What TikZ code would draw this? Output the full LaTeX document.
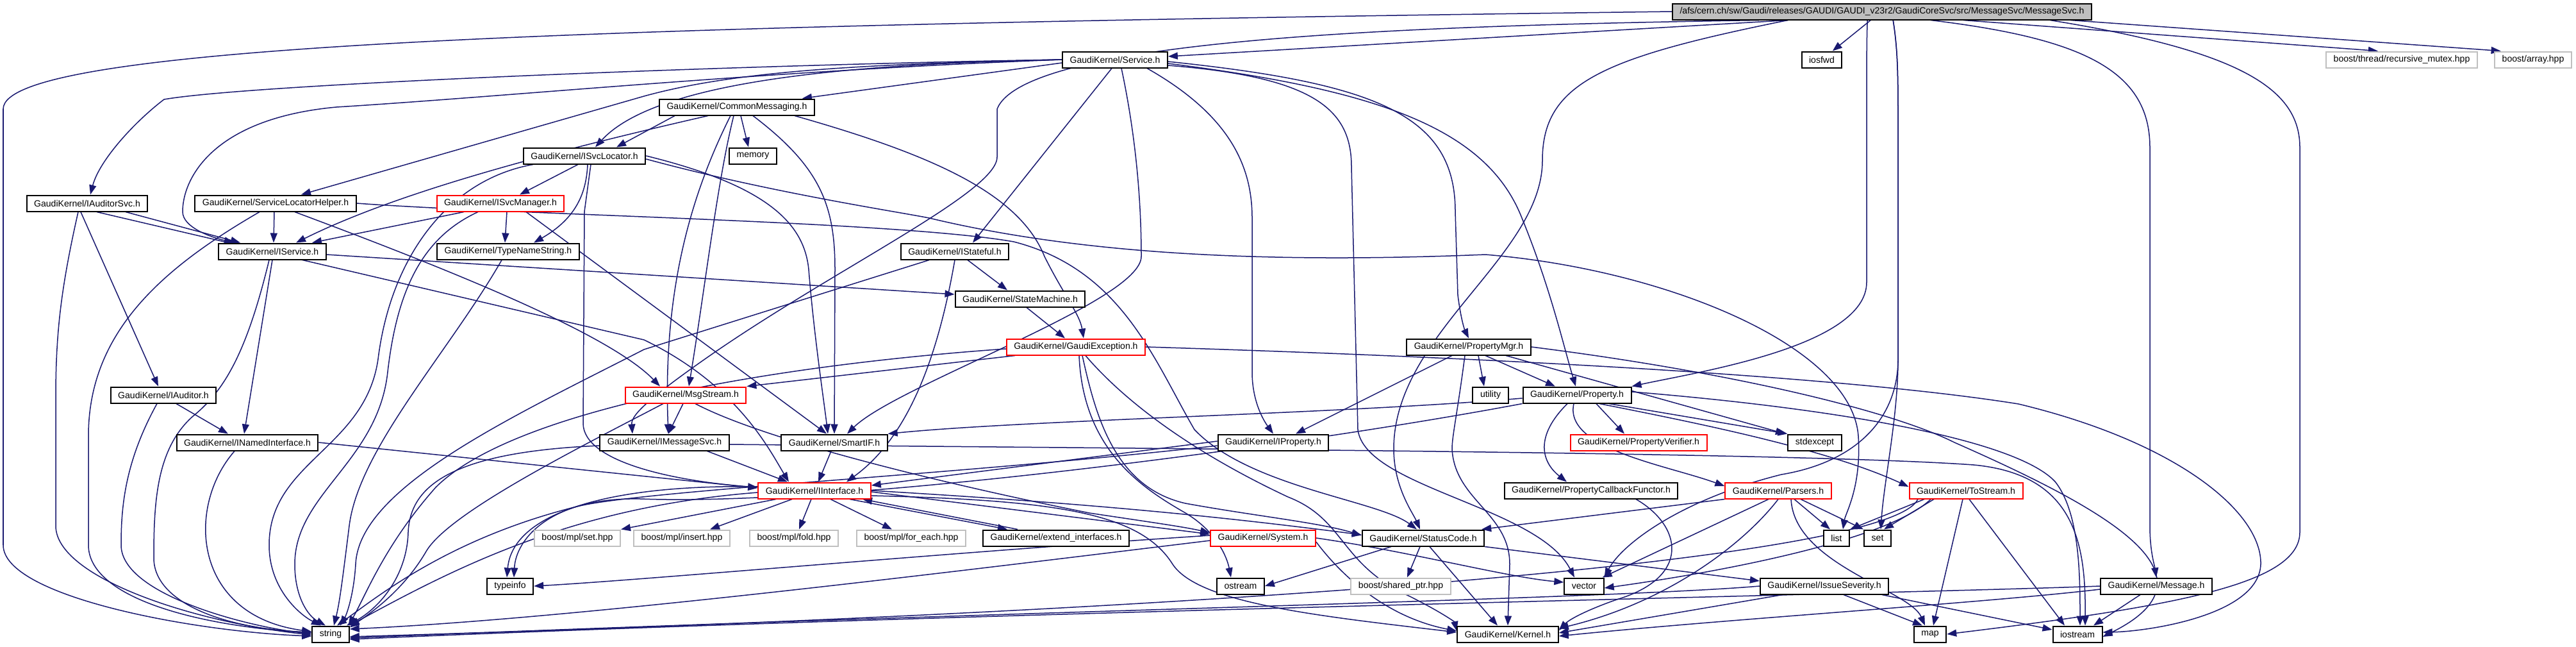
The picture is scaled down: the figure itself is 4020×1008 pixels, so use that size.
\documentclass[tikz,border=0pt]{standalone}
\usepackage{fontspec}
\newfontfamily\doxfont{Liberation Sans}
\usetikzlibrary{arrows.meta,backgrounds}
\definecolor{edgeblue}{HTML}{191970}
\definecolor{boxgray}{HTML}{BFBFBF}

\tikzset{
  hdr/.style={draw=black, fill=white, line width=0.02cm, font=\doxfont\fontsize{4}{4.8}\selectfont,
              inner xsep=0.115cm, inner ysep=0pt, minimum height=0.25cm},
  hdrtrunc/.style={hdr, draw=red},
  hdrext/.style={hdr, draw=boxgray},
  hdrroot/.style={hdr, fill=boxgray},
  dep/.style={color=edgeblue, line width=0.015cm, -{Triangle[length=0.15cm,width=0.11cm]}},
}

\begin{document}
\begin{tikzpicture}[x=0.01cm, y=0.01cm]
\useasboundingbox (0,0) rectangle (4020,-1008);

\node[hdrroot] (root) at (2937,-18) {/afs/cern.ch/sw/Gaudi/releases/GAUDI/GAUDI\_v23r2/GaudiCoreSvc/src/MessageSvc/MessageSvc.h};
\node[hdr] (svc) at (1740,-93) {GaudiKernel/Service.h};
\node[hdr] (iosfwd) at (2843,-93) {iosfwd};
\node[hdrext] (rmutex) at (3748,-93) {boost/thread/recursive\_mutex.hpp};
\node[hdrext] (barray) at (3953,-93) {boost/array.hpp};
\node[hdr] (cmsg) at (1150,-167) {GaudiKernel/CommonMessaging.h};
\node[hdr] (memory) at (1175,-243) {memory};
\node[hdr] (svcloc) at (912,-243) {GaudiKernel/ISvcLocator.h};
\node[hdr] (audsvc) at (136,-317) {GaudiKernel/IAuditorSvc.h};
\node[hdr] (slhelp) at (430,-317) {GaudiKernel/ServiceLocatorHelper.h};
\node[hdrtrunc] (svcmgr) at (781,-317) {GaudiKernel/ISvcManager.h};
\node[hdr] (isvc) at (425,-392) {GaudiKernel/IService.h};
\node[hdr] (tnstr) at (793,-392) {GaudiKernel/TypeNameString.h};
\node[hdr] (istate) at (1490,-392) {GaudiKernel/IStateful.h};
\node[hdr] (smach) at (1592,-466) {GaudiKernel/StateMachine.h};
\node[hdrtrunc] (gexc) at (1679,-541) {GaudiKernel/GaudiException.h};
\node[hdr] (pmgr) at (2292,-541) {GaudiKernel/PropertyMgr.h};
\node[hdr] (iaud) at (255,-616) {GaudiKernel/IAuditor.h};
\node[hdrtrunc] (msgs) at (1070,-616) {GaudiKernel/MsgStream.h};
\node[hdr] (utility) at (2326,-616) {utility};
\node[hdr] (prop) at (2461,-616) {GaudiKernel/Property.h};
\node[hdr] (inamed) at (386,-690) {GaudiKernel/INamedInterface.h};
\node[hdr] (imsg) at (1037,-690) {GaudiKernel/IMessageSvc.h};
\node[hdr] (smartif) at (1302,-690) {GaudiKernel/SmartIF.h};
\node[hdr] (iprop) at (1987,-690) {GaudiKernel/IProperty.h};
\node[hdrtrunc] (pverif) at (2557,-690) {GaudiKernel/PropertyVerifier.h};
\node[hdr] (stdexc) at (2832,-690) {stdexcept};
\node[hdrtrunc] (iiface) at (1271,-765) {GaudiKernel/IInterface.h};
\node[hdr] (pcbf) at (2483,-765) {GaudiKernel/PropertyCallbackFunctor.h};
\node[hdrtrunc] (parsers) at (2775,-765) {GaudiKernel/Parsers.h};
\node[hdrtrunc] (tostr) at (3068,-765) {GaudiKernel/ToStream.h};
\node[hdrext] (mplset) at (901,-839) {boost/mpl/set.hpp};
\node[hdrext] (mplins) at (1064,-839) {boost/mpl/insert.hpp};
\node[hdrext] (mplfold) at (1239,-839) {boost/mpl/fold.hpp};
\node[hdrext] (mplfe) at (1422,-839) {boost/mpl/for\_each.hpp};
\node[hdr] (extif) at (1648,-839) {GaudiKernel/extend\_interfaces.h};
\node[hdrtrunc] (system) at (1971,-839) {GaudiKernel/System.h};
\node[hdr] (stcode) at (2221,-839) {GaudiKernel/StatusCode.h};
\node[hdr] (list) at (2866,-839) {list};
\node[hdr] (set) at (2930,-839) {set};
\node[hdr] (typeinfo) at (796,-914) {typeinfo};
\node[hdr] (ostream) at (1936,-914) {ostream};
\node[hdrext] (shptr) at (2186,-914) {boost/shared\_ptr.hpp};
\node[hdr] (vector) at (2472,-914) {vector};
\node[hdr] (isev) at (2847,-914) {GaudiKernel/IssueSeverity.h};
\node[hdr] (message) at (3365,-914) {GaudiKernel/Message.h};
\node[hdr] (string) at (516,-989) {string};
\node[hdr] (kernel) at (2353,-989) {GaudiKernel/Kernel.h};
\node[hdr] (map) at (3012,-989) {map};
\node[hdr] (iostream) at (3242,-989) {iostream};

\begin{scope}[on background layer]
\fill[white] (0,0) rectangle (4020,-1008);

% MessageSvc.h
\draw[dep] (root.west) .. controls (900,-40) and (5,-70) .. (5,-170) -- (5,-850) .. controls (5,-930) and (300,-985) .. ([yshift=-0.03cm]string.west);
\draw[dep] ([xshift=1.81cm]root.south west) -- ([yshift=0.05cm]svc.east);
\draw[dep] ([xshift=1.36cm]root.south west) .. controls (2200,-40) and (1600,-60) .. (1556,-170) -- (1556,-245) .. controls (1556,-300) and (1300,-420) .. (1100,-560) .. controls (1000,-630) and (985,-650) .. ([xshift=-0.5cm]imsg.north);
\draw[dep] ([xshift=1.81cm]root.south west) .. controls (2500,-90) and (2407,-130) .. (2407,-250) .. controls (2407,-400) and (2175,-520) .. (2175,-700) .. controls (2175,-760) and (2205,-800) .. ([xshift=-0.05cm]stcode.north);
\draw[dep] ([xshift=3.05cm]root.south west) .. controls (2913,-60) and (2913,-100) .. (2913,-200) -- (2913,-440) .. controls (2913,-540) and (2650,-580) .. (prop.north east);
\draw[dep] ([xshift=3.45cm]root.south west) .. controls (2962,-80) and (2962,-120) .. (2962,-200) -- (2962,-560) .. controls (2962,-650) and (2940,-750) .. ([xshift=0.05cm]set.north);
\draw[dep] ([xshift=3.45cm]root.south west) .. controls (2962,-80) and (2962,-120) .. (2962,-200) -- (2962,-560) .. controls (2962,-650) and (2900,-720) .. (2780,-740) .. controls (2620,-780) and (2530,-850) .. (vector.north east);
\draw[dep] ([xshift=4.04cm]root.south west) .. controls (3250,-60) and (3355,-110) .. (3355,-230) -- (3355,-820) .. controls (3355,-860) and (3362,-880) .. (message.north);
\draw[dep] ([xshift=5.9cm]root.south west) .. controls (3500,-80) and (3589,-140) .. (3589,-230) -- (3589,-830) .. controls (3589,-910) and (3400,-945) .. (map.east);
\path[dep] ([xshift=3.1cm]root.south west) edge (iosfwd)
  ([xshift=4.55cm]root.south west) edge (rmutex.160)
  ([xshift=6.22cm]root.south west) edge (barray.165);

% Service.h
\draw[dep] (svc.west) .. controls (1200,-100) and (400,-130) .. (256,-155) .. controls (210,-190) and (155,-250) .. ([xshift=0.05cm]audsvc.north);
\draw[dep] (svc.west) .. controls (1350,-100) and (1150,-110) .. (1005,-150) -- ([xshift=0.4cm]slhelp.north);
\draw[dep] (svc.west) .. controls (1200,-110) and (800,-150) .. (525,-167) .. controls (330,-185) and (285,-280) .. (285,-330) .. controls (285,-355) and (330,-370) .. ([xshift=-0.6cm]isvc.north);
\draw[dep] (svc.west) .. controls (1300,-100) and (1020,-130) .. ([xshift=0.17cm]svcloc.north);
\draw[dep] ([xshift=0.1cm]svc.south) .. controls (1770,-200) and (1781,-300) .. (1781,-400) .. controls (1781,-470) and (1400,-600) .. ([xshift=0.2cm]smartif.north);
\draw[dep] ([xshift=0.5cm]svc.south) .. controls (1920,-180) and (1954,-260) .. (1954,-340) -- (1954,-580) .. controls (1954,-630) and (1975,-660) .. (iprop.north);
\draw[dep] ([yshift=-0.03cm]svc.east) .. controls (2150,-130) and (2271,-180) .. (2271,-330) -- (2275,-460) .. controls (2280,-500) and (2286,-515) .. (pmgr.north);
\draw[dep] ([yshift=-0.06cm]svc.east) .. controls (2150,-140) and (2320,-200) .. (2375,-340) .. controls (2420,-450) and (2440,-540) .. ([xshift=-0.02cm]prop.north);
\draw[dep] ([yshift=-0.09cm]svc.east) .. controls (2050,-120) and (2109,-170) .. (2109,-260) -- (2119,-670) .. controls (2130,-760) and (2400,-790) .. ([xshift=-0.15cm]vector.north);
\path[dep] ([yshift=-0.05cm]svc.west) edge ([xshift=-0.2cm]cmsg.north east)
  ([xshift=-0.05cm]svc.south) edge ([xshift=0.28cm]istate.north);

% CommonMessaging.h
\draw[dep] ([xshift=-0.45cm]cmsg.south) .. controls (800,-250) and (600,-310) .. ([xshift=0.37cm]isvc.north);
\draw[dep] ([xshift=-0.1cm]cmsg.south) .. controls (1080,-300) and (1034,-450) .. ([xshift=0.06cm]imsg.north);
\draw[dep] ([xshift=-0.05cm]cmsg.south) .. controls (1120,-280) and (1100,-450) .. ([xshift=0.05cm]msgs.north);
\draw[dep] ([xshift=0.25cm]cmsg.south) .. controls (1280,-260) and (1303,-320) .. (1303,-420) -- (smartif.north);
\draw[dep] ([xshift=0.9cm]cmsg.south) .. controls (1450,-240) and (1590,-300) .. (1630,-400) .. controls (1660,-460) and (1685,-490) .. ([xshift=0.12cm]gexc.north);
\path[dep] ([xshift=0.25cm]cmsg.south west) edge ([xshift=0.5cm]svcloc.north)
  ([xshift=0.06cm]cmsg.south) edge ([xshift=-0.07cm]memory.north);

% ISvcLocator.h
\draw[dep] ([xshift=0.05cm]svcloc.south) .. controls (915,-300) and (900,-340) .. ([xshift=0.4cm]tnstr.north);
\draw[dep] ([xshift=-0.8cm]svcloc.south) .. controls (700,-280) and (610,-400) .. (590,-560) .. controls (570,-700) and (420,-720) .. (420,-850) .. controls (420,-920) and (470,-960) .. ([xshift=-0.15cm]string.north);
\draw[dep] ([xshift=0.1cm]svcloc.south) -- (912,-330) -- (910,-660) .. controls (910,-720) and (1050,-750) .. ([yshift=0.05cm]iiface.west);
\draw[dep] (svcloc.east) .. controls (1200,-290) and (1255,-350) .. (1262,-420) .. controls (1270,-520) and (1285,-620) .. ([xshift=-0.1cm]smartif.north);
\draw[dep] ([yshift=-0.05cm]svcloc.east) .. controls (1200,-300) and (1400,-330) .. (1450,-340) .. controls (1700,-400) and (2000,-410) .. (2318,-397) .. controls (2600,-420) and (2890,-540) .. (2900,-680) .. controls (2905,-760) and (2880,-800) .. ([xshift=0.1cm]list.north);
\path[dep] ([xshift=-0.1cm]svcloc.south) edge ([xshift=0.3cm]svcmgr.north);

% ISvcManager.h
\draw[dep] ([xshift=-0.35cm]svcmgr.south) .. controls (660,-370) and (620,-450) .. (605,-580) .. controls (590,-720) and (460,-770) .. (460,-880) .. controls (460,-930) and (480,-960) .. ([xshift=-0.08cm]string.north);
\path[dep] ([xshift=-0.57cm]svcmgr.south) edge ([xshift=0.62cm]isvc.north)
  ([xshift=0.1cm]svcmgr.south) edge ([xshift=-0.05cm]tnstr.north)
  ([xshift=0.4cm]svcmgr.south) edge ([xshift=-0.12cm]smartif.north);

% TypeNameString.h
\draw[dep] ([xshift=-0.1cm]tnstr.south) .. controls (700,-550) and (560,-700) .. (545,-820) .. controls (535,-900) and (530,-940) .. ([xshift=0.05cm]string.north);

% IAuditorSvc.h, IAuditor.h, INamedInterface.h
\draw[dep] ([xshift=-0.14cm]audsvc.south) .. controls (95,-450) and (87,-520) .. (87,-620) -- (87,-820) .. controls (87,-900) and (300,-970) .. ([yshift=-0.01cm]string.west);
\draw[dep] ([xshift=0.15cm]audsvc.south) -- (1005,-530) .. controls (1150,-600) and (1200,-700) .. ([xshift=-0.4cm]iiface.north);
\draw[dep] ([xshift=-0.1cm]iaud.south) .. controls (195,-720) and (189,-790) .. (189,-850) .. controls (189,-930) and (400,-980) .. ([yshift=0.01cm]string.west);
\draw[dep] ([xshift=-0.2cm]inamed.south) .. controls (290,-790) and (300,-960) .. ([yshift=0.04cm]string.west);
\path[dep] ([xshift=-0.1cm]audsvc.south) edge ([xshift=-0.08cm]iaud.north)
  ([xshift=0.6cm]audsvc.south) edge ([xshift=-0.5cm]isvc.north)
  ([xshift=0.2cm]iaud.south) edge ([xshift=-0.3cm]inamed.north)
  (inamed.east) edge ([yshift=0.04cm]iiface.west);

% ServiceLocatorHelper.h
\draw[dep] ([xshift=-0.25cm]slhelp.south) .. controls (250,-420) and (138,-520) .. (138,-680) -- (138,-850) .. controls (138,-930) and (300,-975) .. ([yshift=0.02cm]string.west);
\draw[dep] (slhelp.east) .. controls (800,-335) and (1400,-345) .. (1582,-377) .. controls (1750,-420) and (1800,-560) .. (1864,-670) .. controls (1950,-760) and (2150,-780) .. ([xshift=-0.1cm]stcode.north);
\draw[dep] ([xshift=0.3cm]slhelp.south) .. controls (700,-420) and (950,-520) .. ([xshift=-0.4cm]msgs.north);
\path[dep] ([xshift=-0.02cm]slhelp.south) edge ([xshift=0.02cm]isvc.north);

% IService.h, IStateful.h, StateMachine.h
\draw[dep] ([xshift=-0.05cm]isvc.south) .. controls (385,-550) and (350,-610) .. (300,-650) .. controls (245,-700) and (240,-780) .. (240,-870) .. controls (240,-940) and (350,-980) .. ([yshift=0.03cm]string.west);
\draw[dep] (istate.south) .. controls (1465,-550) and (1420,-680) .. ([xshift=0.5cm]iiface.north);
\draw[dep] ([xshift=-0.4cm]istate.south) -- (1005,-545) .. controls (800,-650) and (560,-760) .. (555,-880) .. controls (552,-930) and (540,-960) .. ([xshift=0.15cm]string.north);
\path[dep] ([yshift=-0.05cm]isvc.east) edge ([yshift=0.07cm]smach.west)
  (isvc.south) edge ([xshift=-0.05cm]inamed.north)
  ([xshift=0.2cm]istate.south) edge ([xshift=-0.2cm]smach.north)
  ([xshift=0.1cm]smach.south) edge ([xshift=-0.17cm]gexc.north);

% GaudiException.h
\draw[dep] ([yshift=-0.03cm]gexc.west) .. controls (1200,-570) and (800,-640) .. (680,-760) .. controls (600,-850) and (570,-930) .. ([xshift=-0.02cm]string.north east);
\draw[dep] ([xshift=0.05cm]gexc.south) .. controls (1690,-700) and (1780,-760) .. (1850,-800) .. controls (1900,-830) and (1915,-870) .. ([xshift=-0.15cm]ostream.north);
\draw[dep] ([xshift=0.1cm]gexc.south) .. controls (1710,-650) and (1740,-760) .. (1850,-785) .. controls (1960,-805) and (2060,-815) .. ([yshift=0.04cm]stcode.west);
\draw[dep] ([xshift=0.15cm]gexc.south) .. controls (1750,-620) and (1850,-700) .. (2010,-775) .. controls (2100,-810) and (2090,-880) .. (2200,-930) .. controls (2250,-955) and (2270,-970) .. ([yshift=0.05cm]kernel.west);
\draw[dep] (gexc.east) .. controls (2400,-560) and (2900,-590) .. (3150,-630) .. controls (3400,-690) and (3530,-800) .. (3528,-880) .. controls (3525,-960) and (3350,-985) .. ([yshift=0.03cm]iostream.east);
\path[dep] ([xshift=-0.95cm]gexc.south) edge (msgs.north east);

% PropertyMgr.h
\draw[dep] ([xshift=-0.06cm]pmgr.south) .. controls (2275,-640) and (2266,-680) .. (2266,-700) .. controls (2270,-780) and (2356,-800) .. (2356,-880) -- (kernel.north);
\draw[dep] (pmgr.east) .. controls (2700,-580) and (2950,-640) .. (3050,-690) .. controls (3300,-800) and (3470,-900) .. ([yshift=-0.04cm]iostream.east);
\path[dep] ([xshift=0.26cm]pmgr.south) edge ([xshift=-0.34cm]prop.north)
  ([xshift=0.15cm]pmgr.south) edge ([xshift=-0.1cm]utility.north)
  ([xshift=0.58cm]pmgr.south) edge ([xshift=-0.46cm]stdexc.north)
  ([xshift=-0.26cm]pmgr.south) edge ([xshift=0.35cm]iprop.north);

% Property.h
\draw[dep] ([yshift=-0.05cm]prop.west) .. controls (2100,-645) and (1600,-655) .. (smartif.north east);
\draw[dep] (prop.south west) .. controls (2000,-700) and (1300,-790) .. (1000,-778) .. controls (860,-775) and (805,-840) .. ([xshift=0.06cm]typeinfo.north);
\draw[dep] ([xshift=-0.15cm]prop.south) .. controls (2395,-680) and (2405,-720) .. ([xshift=-0.38cm]pcbf.north);
\draw[dep] ([xshift=-0.05cm]prop.south) .. controls (2440,-700) and (2600,-725) .. ([yshift=0.07cm]parsers.west);
\draw[dep] ([xshift=0.35cm]prop.south) .. controls (2650,-660) and (2850,-700) .. ([yshift=0.06cm]tostr.west);
\draw[dep] ([yshift=0.05cm]prop.east) .. controls (2900,-640) and (3150,-690) .. (3207,-751) .. controls (3246,-800) and (3246,-900) .. ([xshift=0.04cm]iostream.north);
\path[dep] ([xshift=0.3cm]prop.south) edge ([xshift=-0.22cm]pverif.north)
  ([xshift=0.5cm]prop.south) edge (stdexc.north west);

% PropertyCallbackFunctor.h, Parsers.h, ToStream.h
\draw[dep] ([xshift=0.7cm]pcbf.south) .. controls (2625,-820) and (2640,-900) .. (2523,-935) .. controls (2480,-950) and (2450,-965) .. ([yshift=0.06cm]kernel.east);
\draw[dep] (parsers.south) .. controls (2720,-850) and (2600,-940) .. ([yshift=0.09cm]kernel.east);
\draw[dep] ([xshift=0.2cm]parsers.south) .. controls (2800,-880) and (2980,-920) .. ([xshift=-0.08cm]map.north);
\draw[dep] ([xshift=-0.75cm]tostr.south) .. controls (2950,-870) and (2000,-950) .. ([yshift=-0.04cm]string.east);
\draw[dep] ([xshift=-0.55cm]tostr.south) .. controls (2950,-840) and (2700,-890) .. ([yshift=-0.03cm]vector.east);
\path[dep] (parsers.south west) edge ([xshift=-0.05cm]stcode.north east)
  ([xshift=-0.15cm]parsers.south) edge ([xshift=-0.03cm]vector.north east)
  ([xshift=0.25cm]parsers.south) edge ([xshift=-0.1cm]list.north)
  ([xshift=0.35cm]parsers.south) edge (set.north west)
  ([xshift=-0.65cm]tostr.south) edge (list.north east)
  ([xshift=-0.5cm]tostr.south) edge ([xshift=0.1cm]set.north)
  ([xshift=-0.05cm]tostr.south) edge ([xshift=0.05cm]map.north)
  ([xshift=0.05cm]tostr.south) edge ([xshift=-0.2cm]iostream.north);

% IssueSeverity.h, Message.h
\draw[dep] (isev.west) .. controls (2500,-935) and (1500,-955) .. ([yshift=-0.06cm]string.east);
\draw[dep] (message.west) .. controls (3000,-925) and (1500,-955) .. ([yshift=-0.08cm]string.east);
\draw[dep] ([yshift=-0.05cm]message.west) .. controls (3100,-940) and (2700,-965) .. ([yshift=-0.03cm]kernel.east);
\path[dep] ([xshift=-0.65cm]isev.south) edge ([yshift=0.02cm]kernel.east)
  ([xshift=0.3cm]isev.south) edge ([xshift=-0.12cm]map.north)
  ([xshift=0.9cm]isev.south) edge ([yshift=0.07cm]iostream.west)
  ([xshift=-0.25cm]message.south) edge ([xshift=0.25cm]iostream.north);

% IMessageSvc.h, MsgStream.h, SmartIF.h, IProperty.h
\draw[dep] ([yshift=-0.05cm]imsg.west) .. controls (700,-705) and (640,-760) .. (637,-830) .. controls (635,-900) and (590,-950) .. ([xshift=0.25cm]string.north);
\draw[dep] ([yshift=-0.03cm]imsg.east) .. controls (1800,-700) and (2800,-705) .. (3080,-725) .. controls (3240,-740) and (3255,-850) .. ([xshift=0.12cm]iostream.north);
\draw[dep] ([xshift=-0.35cm]msgs.south) .. controls (900,-700) and (700,-800) .. (665,-860) .. controls (630,-920) and (580,-955) .. ([yshift=-0.03cm]string.north east);
\draw[dep] ([xshift=0.15cm]msgs.south) .. controls (1200,-690) and (1500,-760) .. (1700,-800) .. controls (1800,-815) and (1850,-822) .. ([yshift=0.08cm]system.west);
\draw[dep] ([yshift=-0.05cm]iprop.west) .. controls (1500,-740) and (1000,-765) .. (900,-790) .. controls (700,-840) and (590,-930) .. ([xshift=0.1cm]string.north);
\path[dep] ([xshift=-0.35cm]imsg.south east) edge ([xshift=-0.42cm]iiface.north)
  ([xshift=-0.04cm]msgs.south) edge ([xshift=0.06cm]imsg.north)
  ([xshift=-0.05cm]smartif.south) edge ([xshift=0.06cm]iiface.north)
  ([yshift=0.02cm]iprop.west) edge ([yshift=0.08cm]iiface.east);

% IInterface.h
\draw[dep] ([yshift=0.06cm]iiface.west) .. controls (950,-755) and (800,-800) .. ([xshift=-0.05cm]typeinfo.north);
\draw[dep] ([yshift=-0.03cm]iiface.west) .. controls (900,-790) and (720,-880) .. (string.north east);
\draw[dep] (iiface.east) .. controls (1700,-785) and (1900,-805) .. ([yshift=0.05cm]stcode.west);
\draw[dep] ([yshift=-0.08cm]iiface.east) .. controls (1650,-780) and (1780,-800) .. (1830,-880) .. controls (1870,-940) and (2050,-960) .. ([yshift=0.03cm]kernel.west);
\path[dep] ([xshift=-0.6cm]iiface.south) edge (mplset.north east)
  ([xshift=-0.35cm]iiface.south) edge ([xshift=0.44cm]mplins.north)
  ([xshift=-0.05cm]iiface.south) edge ([xshift=0.08cm]mplfold.north)
  ([xshift=0.25cm]iiface.south) edge ([xshift=-0.3cm]mplfe.north)
  ([xshift=0.55cm]iiface.south) edge ([xshift=-0.76cm]extif.north)
  ([xshift=-0.6cm]extif.north) edge ([xshift=0.75cm]iiface.south)
  ([yshift=-0.02cm]iiface.east) edge ([yshift=0.06cm]system.west);

% System.h, StatusCode.h
\draw[dep] ([yshift=0.04cm]system.west) .. controls (1500,-860) and (1000,-905) .. (typeinfo.east);
\draw[dep] ([yshift=-0.04cm]system.west) .. controls (1500,-890) and (900,-965) .. ([yshift=0.08cm]string.east);
\draw[dep] (system.east) .. controls (2200,-860) and (2350,-900) .. ([yshift=0.06cm]vector.west);
\draw[dep] ([yshift=-0.06cm]system.east) .. controls (2080,-880) and (2150,-960) .. ([yshift=0.05cm]kernel.west);
\path[dep] ([xshift=-0.5cm]stcode.south) edge (ostream.east)
  ([xshift=-0.05cm]stcode.south) edge ([xshift=0.1cm]shptr.north)
  ([xshift=0.1cm]stcode.south) edge ([xshift=-0.16cm]kernel.north)
  (stcode.south east) edge ([yshift=0.08cm]isev.west);
\end{scope}
\end{tikzpicture}
\end{document}
